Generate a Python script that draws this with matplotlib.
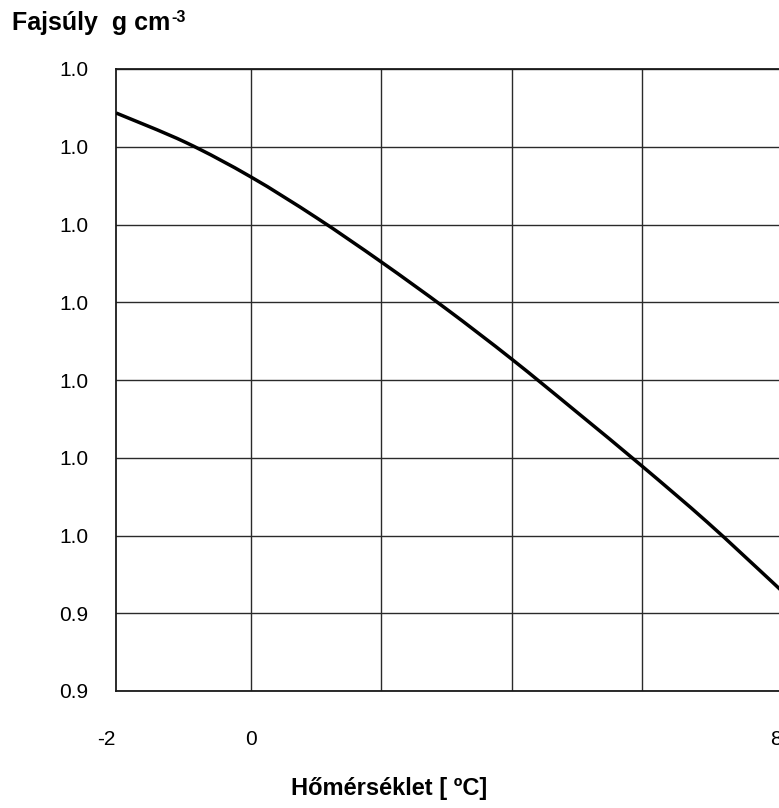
import matplotlib
matplotlib.use("Agg")
import matplotlib.pyplot as plt
import matplotlib.transforms as mtransforms
from matplotlib.path import Path
from matplotlib.patches import PathPatch

plt.rcParams['font.family'] = ['Liberation Sans', 'DejaVu Sans']

# data
temperature = [-2.07, -1.0, 0.0, 1.0, 2.0, 3.0, 4.0, 5.0, 6.0, 7.0, 8.0, 8.3]
density = [1.01434, 1.01055, 1.00611, 1.00090, 0.99518, 0.98913, 0.98270,
           0.97588, 0.96894, 0.96174, 0.95402, 0.95164]

y_ticks = [1.02, 1.01, 1.00, 0.99, 0.98, 0.97, 0.96, 0.95, 0.94]
y_labels = ['1.0', '1.0', '1.0', '1.0', '1.0', '1.0', '1.0', '0.9', '0.9']
x_ticks = [-2, 0, 8]
x_labels = ['-2', '0', '8']
x_grid = [0, 2, 4, 6]

W, H = 779, 808
fig = plt.figure(figsize=(W / 100, H / 100), dpi=100)
left_px, right_px, top_px, bot_px = 116, 902.5, 69, 691
ax = fig.add_axes([left_px / W, (H - bot_px) / H, (right_px - left_px) / W, (bot_px - top_px) / H])

# smoothed line (Bezier segments through the data points, like a spreadsheet "smoothed line")
pts = list(zip(temperature, density))
verts = [pts[0]]
codes = [Path.MOVETO]
n = len(pts)
for i in range(n - 1):
    p0 = pts[i - 1] if i > 0 else pts[i]
    p1 = pts[i]
    p2 = pts[i + 1]
    p3 = pts[i + 2] if i + 2 < n else pts[i + 1]
    c1 = (p1[0] + (p2[0] - p0[0]) / 6, p1[1] + (p2[1] - p0[1]) / 6)
    c2 = (p2[0] - (p3[0] - p1[0]) / 6, p2[1] - (p3[1] - p1[1]) / 6)
    verts += [c1, c2, p2]
    codes += [Path.CURVE4] * 3
ax.add_patch(PathPatch(Path(verts, codes), facecolor='none', edgecolor='black',
                       lw=2.5, zorder=3))

ax.set_xlim(-2.072, 10)
ax.set_ylim(0.94, 1.02)

ax.set_yticks(y_ticks)
ax.set_yticklabels(y_labels, fontsize=15)
ax.set_xticks(x_ticks)
ax.set_xticklabels(x_labels, fontsize=15)
ax.tick_params(axis='both', length=0)
ax.tick_params(axis='y', pad=20)
ax.tick_params(axis='x', pad=28)

for yv in y_ticks:
    ax.axhline(yv, color='#2a2a2a', lw=1.0, zorder=1)
for xv in x_grid:
    ax.axvline(xv, color='#2a2a2a', lw=1.0, zorder=1)

for s in ['left', 'top', 'bottom']:
    ax.spines[s].set_color('#1a1a1a')
    ax.spines[s].set_linewidth(1.3)
ax.spines['right'].set_visible(False)

labels = ax.get_xticklabels()
offsets = [-14, 0, 4]
for lab, dx in zip(labels, offsets):
    lab.set_transform(lab.get_transform() + mtransforms.ScaledTranslation(dx / 100, 0, fig.dpi_scale_trans))

t1 = fig.text(12 / W, (H - 30) / H, 'Fajsúly  g cm', fontsize=18,
              fontweight='bold', ha='left', va='baseline')
fig.canvas.draw()
bb = t1.get_window_extent()
fig.text((bb.x1 + 1) / W, (H - 22) / H, '-3', fontsize=11.5,
         fontweight='bold', ha='left', va='baseline')
fig.text(389 / W, (H - 789) / H, 'Hőmérséklet [ ºC]', fontsize=17,
         fontweight='bold', ha='center', va='center')

fig.savefig('out.png', dpi=100)
